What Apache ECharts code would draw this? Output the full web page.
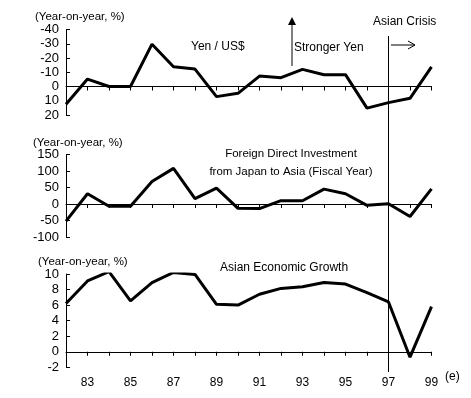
<!DOCTYPE html>
<html>
<head>
<meta charset="utf-8">
<script src="https://cdn.jsdelivr.net/npm/echarts@6/dist/echarts.min.js"></script>
<style>
  html, body { margin: 0; padding: 0; background: #fff; }
  #main { width: 471px; height: 398px; }
</style>
</head>
<body>
<div id="main"></div>
<script>
// year categories (82 .. 99e)
var years = ['82', '83', '84', '85', '86', '87', '88', '89', '90',
             '91', '92', '93', '94', '95', '96', '97', '98', '99'];
// Yen / US$, year-on-year % (axis drawn inverted)
var yenUsd = [12.4, -5.2, 0, 0, -29.7, -13.8, -12.2, 7.1, 4.8,
              -7.3, -6.2, -12, -8.3, -8.3, 15.2, 11.3, 8.3, -13.8];
// FDI from Japan to Asia (fiscal year), year-on-year %
var fdiAsia = [-52, 31, -7, -7, 68, 108, 16, 48, -13,
               -14, 10, 10, 45, 31, -4, 1, -38, 46];
// Asian economic growth, year-on-year %
var asiaGrowth = [6.2, 9.1, 10.3, 6.55, 8.9, 10.2, 9.95, 6.1, 6.0,
                  7.4, 8.15, 8.35, 8.9, 8.7, 7.6, 6.4, -0.7, 5.8];
var crisisYear = '97';

var myChart = echarts.init(document.getElementById('main'));
var FONT = 'Liberation Sans, Arial, sans-serif';

function grid(top, height) {
    return { left: 66, right: 39.5, top: top, height: height, containLabel: false };
}
function zeroAxis(i) {
    return {
        type: 'category', gridIndex: i, data: years, boundaryGap: false,
        axisLine: { onZero: true, lineStyle: { color: '#000', width: 1 } },
        axisTick: { show: true, inside: false, length: 4, interval: 0, lineStyle: { color: '#000' } },
        axisLabel: { show: false },
        splitLine: { show: false }
    };
}
function valAxis(i, min, max, step, inverse) {
    return {
        type: 'value', gridIndex: i, min: min, max: max, interval: step, inverse: !!inverse,
        axisLine: { show: true, onZero: false, lineStyle: { color: '#000', width: 1 } },
        axisTick: { show: true, inside: true, length: 4, lineStyle: { color: '#000' } },
        axisLabel: { color: '#000', fontFamily: FONT, fontSize: 13, margin: 7 },
        splitLine: { show: false }
    };
}
function line(i, data) {
    return {
        type: 'line', xAxisIndex: i, yAxisIndex: i, data: data,
        symbol: 'none', silent: true,
        lineStyle: { color: '#000', width: 3 }
    };
}
function txt(x, y, s, align, size) {
    return {
        type: 'text', x: x, y: y, silent: true,
        style: { text: s, x: 0, y: 0, fill: '#000', font: (size || 12) + 'px ' + FONT,
                 textAlign: align || 'left', textVerticalAlign: 'middle' }
    };
}

option = {
    animation: false,
    backgroundColor: '#fff',
    grid: [
        grid(29.5, 85.5),
        grid(154.5, 82.5),
        grid(274, 93.3),
        grid(36, 336)
    ],
    xAxis: [
        zeroAxis(0),
        zeroAxis(1),
        zeroAxis(2),
        // year labels at the bottom of the lowest panel
        {
            type: 'category', gridIndex: 2, data: years, boundaryGap: false, position: 'bottom',
            axisLine: { show: false, onZero: false },
            axisTick: { show: false },
            axisLabel: {
                color: '#000', fontFamily: FONT, fontSize: 12, margin: 9,
                interval: function(idx) { return idx % 2 === 1; }
            }
        },
        // overlay axis for the Asian crisis line
        { type: 'category', gridIndex: 3, data: years, boundaryGap: false, show: false }
    ],
    yAxis: [
        valAxis(0, -40, 20, 10, true),
        valAxis(1, -100, 150, 50),
        valAxis(2, -2, 10, 2),
        { type: 'value', gridIndex: 3, min: 0, max: 1, show: false }
    ],
    series: [
        line(0, yenUsd),
        line(1, fdiAsia),
        line(2, asiaGrowth),
        {
            type: 'line', xAxisIndex: 4, yAxisIndex: 3, data: [],
            symbol: 'none', silent: true,
            markLine: {
                silent: true, symbol: 'none', animation: false,
                label: { show: false },
                lineStyle: { color: '#000', width: 1, type: 'solid' },
                data: [{ xAxis: crisisYear }]
            }
        }
    ],
    graphic: [
        txt(35, 17, '(Year-on-year, %)', 'left', 11.5),
        txt(33, 143, '(Year-on-year, %)', 'left', 11.5),
        txt(38, 262, '(Year-on-year, %)', 'left', 11.5),
        txt(191, 47, 'Yen / US$'),
        txt(294, 48, 'Stronger Yen'),
        txt(373, 22, 'Asian Crisis'),
        txt(291, 154, 'Foreign Direct Investment', 'center', 11.5),
        txt(291, 172, 'from Japan to Asia (Fiscal Year)', 'center', 11.5),
        txt(220, 268, 'Asian Economic Growth'),
        txt(445, 377, '(e)'),
        // stronger-yen arrow
        { type: 'line', silent: true, shape: { x1: 292, y1: 66, x2: 292, y2: 24 },
          style: { stroke: '#000', lineWidth: 1 } },
        { type: 'polygon', silent: true, shape: { points: [[292, 17], [288, 25], [296, 25]] },
          style: { fill: '#000' } },
        // crisis arrow
        { type: 'line', silent: true, shape: { x1: 391, y1: 45, x2: 415, y2: 45 },
          style: { stroke: '#000', lineWidth: 1 } },
        { type: 'polyline', silent: true, shape: { points: [[408, 41], [415, 45], [408, 49]] },
          style: { stroke: '#000', lineWidth: 1, fill: null } }
    ]
};

myChart.setOption(option);
</script>
</body>
</html>
